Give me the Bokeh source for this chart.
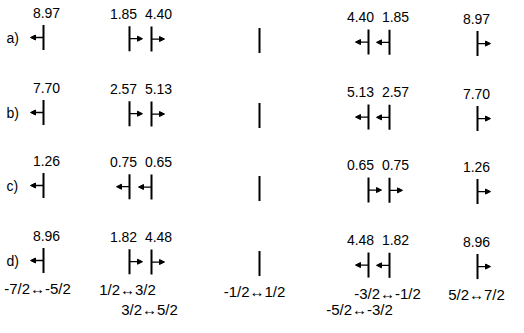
import math
from bokeh.plotting import figure
from bokeh.models import Range1d, ColumnDataSource, Arrow, NormalHead
from bokeh.core.properties import value
from bokeh.embed import file_html
from bokeh.resources import INLINE

# ---- data ----
row_labels = ["a)", "b)", "c)", "d)"]
transitions = ["-7/2\u2194-5/2", "1/2\u21943/2", "3/2\u21945/2", "-1/2\u21941/2",
               "-5/2\u2194-3/2", "-3/2\u2194-1/2", "5/2\u21947/2"]
values_a = [8.97, 1.85, 4.40, None, 4.40, 1.85, 8.97]
values_b = [7.70, 2.57, 5.13, None, 5.13, 2.57, 7.70]
values_c = [1.26, 0.75, 0.65, None, 0.65, 0.75, 1.26]
values_d = [8.96, 1.82, 4.48, None, 4.48, 1.82, 8.96]
direction_a = [-1, 1, 1, 0, -1, -1, 1]
direction_b = [-1, 1, 1, 0, -1, -1, 1]
direction_c = [-1, -1, -1, 0, 1, 1, 1]
direction_d = [-1, 1, 1, 0, -1, -1, 1]

all_values = [values_a, values_b, values_c, values_d]
all_dirs = [direction_a, direction_b, direction_c, direction_d]

# ---- layout (page pixels) ----
stick_x = [51, 137, 159, 267, 376, 397, 485]
label_dx = [3, -6, 7, 0, -8, 6, -1]
row_y = [45, 120, 193, 268]
bottom_level = [0, 0, 1, 0, 1, 0, 0]
bottom_dx = [-6, -2, -2, -5, -9, -2, -1]
slant = 0.014
half_len = 12.5
arrow_len = 13

FONT = value("Liberation Sans")

p = figure(width=508, height=317, output_backend="svg", toolbar_location=None,
           x_range=Range1d(8, 516), y_range=Range1d(325, 8), min_border=0)
p.axis.visible = False
p.grid.visible = False
p.outline_line_color = None
p.background_fill_color = "white"

sx0, sy0, sx1, sy1 = [], [], [], []
ax0, ay0, ax1 = [], [], []
tx, ty, tt = [], [], []
for r, (vals, dirs) in enumerate(zip(all_values, all_dirs)):
    for i, x in enumerate(stick_x):
        yc = row_y[r] + slant * (x - 50)
        sx0.append(x); sx1.append(x)
        sy0.append(yc - half_len); sy1.append(yc + half_len)
        if dirs[i] != 0:
            ax0.append(x); ay0.append(yc); ax1.append(x + dirs[i] * arrow_len)
        if vals[i] is not None:
            tx.append(x + label_dx[i]); ty.append(yc - 25); tt.append(f"{vals[i]:.2f}")

p.segment(x0=sx0, y0=sy0, x1=sx1, y1=sy1, line_color="black", line_width=2)

asrc = ColumnDataSource(dict(x0=ax0, y0=ay0, x1=ax1, y1=ay0))
p.add_layout(Arrow(x_start="x0", y_start="y0", x_end="x1", y_end="y1", source=asrc,
                   line_width=1.3, line_color="black",
                   end=NormalHead(size=5, fill_color="black", line_color="black", line_width=1)))

p.text(x=tx, y=ty, text=tt, text_font=FONT, text_font_size="14px",
       text_align="center", text_baseline="middle", text_color="black")

# row labels
p.text(x=[14] * 4, y=[y for y in row_y], text=row_labels, text_font=FONT,
       text_font_size="14px", text_align="left", text_baseline="middle", text_color="black")

# transition labels
bx, by = [], []
for i, x in enumerate(stick_x):
    yb = 296 + slant * (x - 50) + bottom_level[i] * 24
    by.append(min(yb, 317))
    bx.append(x + bottom_dx[i])
p.text(x=bx, y=by, text=transitions, text_font=FONT, text_font_size="15px",
       text_align="center", text_baseline="middle", text_color="black")

open("out.html", "w").write(file_html(p, INLINE))
